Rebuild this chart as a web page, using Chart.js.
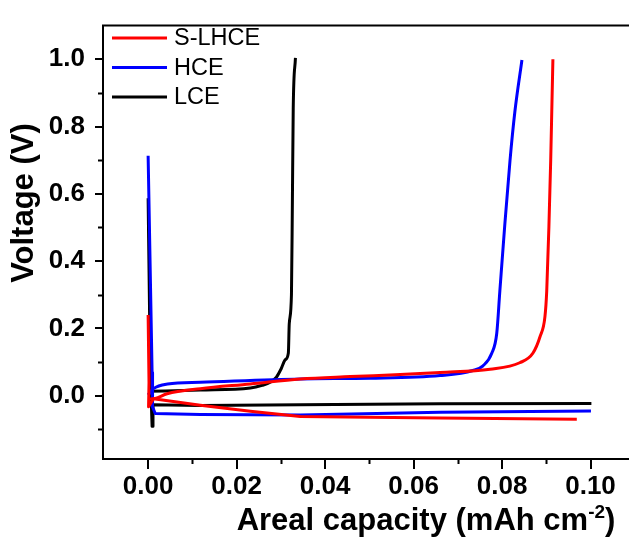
<!DOCTYPE html>
<html>
<head>
<meta charset="utf-8">
<script src="https://cdn.jsdelivr.net/npm/chart.js@4.4.1/dist/chart.umd.min.js"></script>
<style>
  html, body { margin: 0; padding: 0; background: #fff; }
  #wrap { width: 629px; height: 541px; }
</style>
</head>
<body>
<div id="wrap"><canvas id="voltageChart" width="629" height="541"></canvas></div>
<script>
// Areal capacity (mAh cm-2) / voltage (V)
// S-LHCE
const sLhceDisX = [0, 0.0002, 0.0001, 0.0012, 0.0118, 0.0231, 0.0344, 0.050, 0.066, 0.0969];
const sLhceDisY = [0.24, 0.04, -0.033, -0.009, -0.028, -0.046, -0.062, -0.064, -0.066, -0.070];
const sLhceChgX = [0, 0.0016, 0.0043, 0.0118, 0.0231, 0.0344, 0.0457, 0.057, 0.066, 0.0773, 0.084, 0.087, 0.0886, 0.0897, 0.0901, 0.0906, 0.0910, 0.0913, 0.0915];
const sLhceChgY = [-0.01, -0.008, 0.006, 0.021, 0.035, 0.050, 0.057, 0.063, 0.069, 0.079, 0.098, 0.127, 0.176, 0.235, 0.310, 0.504, 0.699, 0.880, 1.000];
// HCE
const hceDisX = [0, 0.0009, 0.001, 0.0016, 0.0118, 0.0344, 0.066, 0.1001];
const hceDisY = [0.713, 0.069, -0.033, -0.053, -0.056, -0.057, -0.049, -0.045];
const hceChgX = [0, 0.0012, 0.0044, 0.0118, 0.0344, 0.0502, 0.066, 0.0734, 0.0757, 0.0777, 0.0788, 0.0795, 0.0806, 0.0818, 0.0829, 0.0845];
const hceChgY = [0.002, 0.021, 0.035, 0.040, 0.050, 0.052, 0.060, 0.075, 0.089, 0.127, 0.185, 0.310, 0.504, 0.699, 0.844, 0.998];
// LCE
const lceDisX = [0, 0.0005, 0.0009, 0.0011, 0.0118, 0.0344, 0.066, 0.1002];
const lceDisY = [0.587, 0.069, -0.091, -0.027, -0.029, -0.027, -0.024, -0.023];
const lceChgX = [0, 0.0118, 0.0231, 0.0258, 0.0276, 0.0290, 0.0301, 0.0310, 0.0317, 0.0319, 0.0324, 0.0326, 0.0328, 0.0333];
const lceChgY = [0.013, 0.017, 0.023, 0.031, 0.040, 0.055, 0.081, 0.107, 0.127, 0.214, 0.301, 0.562, 0.853, 1.004];

const xTicks = [0, 0.02, 0.04, 0.06, 0.08, 0.10];
const xMinorTicks = [0.01, 0.03, 0.05, 0.07, 0.09];
const yTicks = [0, 0.2, 0.4, 0.6, 0.8, 1.0];
const yMinorTicks = [-0.1, 0.1, 0.3, 0.5, 0.7, 0.9];

const xTitle = 'Areal capacity (mAh cm';
const xTitleSup = '-2';
const yTitle = 'Voltage (V)';

const FONT = '"Liberation Sans", Arial, sans-serif';

function toPoints(xs, ys) {
  return xs.map((x, i) => ({ x: x, y: ys[i] }));
}

function series(label, color, xs, ys, smooth) {
  return {
    label: label,
    data: toPoints(xs, ys),
    borderColor: color,
    backgroundColor: color,
    borderWidth: 3,
    borderJoinStyle: 'round',
    pointRadius: 0,
    showLine: true,
    tension: smooth ? 0.4 : 0,
    cubicInterpolationMode: smooth ? 'monotone' : 'default'
  };
}

// tick marks for the minor steps, legend, frame top and axis titles
const decorPlugin = {
  id: 'decor',
  afterDraw(chart) {
    const ctx = chart.ctx;
    const area = chart.chartArea;
    const xs = chart.scales.x;
    const ys = chart.scales.y;
    ctx.save();
    ctx.strokeStyle = '#000';

    // top frame line
    ctx.lineWidth = 2;
    ctx.beginPath();
    ctx.moveTo(area.left - 1, area.top);
    ctx.lineTo(chart.width, area.top);
    ctx.stroke();

    // minor ticks
    ctx.lineWidth = 2;
    ctx.beginPath();
    xMinorTicks.forEach(v => {
      const px = Math.round(xs.getPixelForValue(v)) + 0.5;
      ctx.moveTo(px, area.bottom);
      ctx.lineTo(px, area.bottom + 5);
    });
    yMinorTicks.forEach(v => {
      const py = Math.round(ys.getPixelForValue(v)) + 0.5;
      ctx.moveTo(area.left, py);
      ctx.lineTo(area.left - 5, py);
    });
    ctx.stroke();

    // legend
    const seen = [];
    chart.data.datasets.forEach(ds => {
      if (seen.find(s => s.label === ds.label)) return;
      seen.push(ds);
    });
    ctx.font = '23.5px ' + FONT;
    ctx.textBaseline = 'middle';
    ctx.textAlign = 'left';
    seen.forEach((ds, i) => {
      const y = 38 + i * 29.5;
      ctx.strokeStyle = ds.borderColor;
      ctx.lineWidth = 3;
      ctx.beginPath();
      ctx.moveTo(112, y);
      ctx.lineTo(167, y);
      ctx.stroke();
      ctx.fillStyle = '#000';
      ctx.fillText(ds.label, 174, y + 1);
    });

    // x title with superscript
    ctx.fillStyle = '#000';
    const mainFont = 'bold 31px ' + FONT;
    const supFont = 'bold 19px ' + FONT;
    ctx.font = mainFont;
    const w1 = ctx.measureText(xTitle).width;
    const w3 = ctx.measureText(')').width;
    ctx.font = supFont;
    const w2 = ctx.measureText(xTitleSup).width;
    const x0 = 426 - (w1 + w2 + w3) / 2;
    const base = 530;
    ctx.textBaseline = 'alphabetic';
    ctx.font = mainFont;
    ctx.fillText(xTitle, x0, base);
    ctx.font = supFont;
    ctx.fillText(xTitleSup, x0 + w1, base - 12);
    ctx.font = mainFont;
    ctx.fillText(')', x0 + w1 + w2, base);

    // y title
    ctx.translate(24, 203);
    ctx.rotate(-Math.PI / 2);
    ctx.textAlign = 'center';
    ctx.textBaseline = 'middle';
    ctx.font = 'bold 31px ' + FONT;
    ctx.fillText(yTitle, 0, 0);
    ctx.restore();
  }
};

const tickFont = { family: FONT, size: 26, weight: 'bold' };

new Chart(document.getElementById('voltageChart').getContext('2d'), {
  type: 'scatter',
  data: {
    datasets: [
      series('S-LHCE', '#ff0000', sLhceDisX, sLhceDisY, false),
      series('S-LHCE', '#ff0000', sLhceChgX, sLhceChgY, true),
      series('HCE', '#0000ff', hceDisX, hceDisY, false),
      series('HCE', '#0000ff', hceChgX, hceChgY, true),
      series('LCE', '#000000', lceDisX, lceDisY, false),
      series('LCE', '#000000', lceChgX, lceChgY, true)
    ]
  },
  options: {
    responsive: false,
    animation: false,
    layout: { padding: { top: 15, right: 0, bottom: 0, left: 0 } },
    plugins: {
      legend: { display: false },
      tooltip: { enabled: false }
    },
    scales: {
      x: {
        type: 'linear',
        min: -0.0102,
        max: 0.1087,
        afterBuildTicks: s => { s.ticks = xTicks.map(v => ({ value: v })); },
        afterFit: s => { s.height = 82; },
        ticks: {
          font: tickFont,
          color: '#000',
          padding: 2,
          callback: v => Number(v).toFixed(2)
        },
        grid: { drawOnChartArea: false, drawTicks: true, tickLength: 10, lineWidth: 2, color: '#000' },
        border: { display: true, color: '#000', width: 2 }
      },
      y: {
        type: 'linear',
        min: -0.188,
        max: 1.10,
        afterBuildTicks: s => { s.ticks = yTicks.map(v => ({ value: v })); },
        afterFit: s => { s.width = 103; },
        ticks: {
          font: tickFont,
          color: '#000',
          padding: 10,
          callback: v => Number(v).toFixed(1)
        },
        grid: { drawOnChartArea: false, drawTicks: true, tickLength: 8, lineWidth: 2, color: '#000' },
        border: { display: true, color: '#000', width: 2 }
      }
    }
  },
  plugins: [decorPlugin]
});
</script>
</body>
</html>
